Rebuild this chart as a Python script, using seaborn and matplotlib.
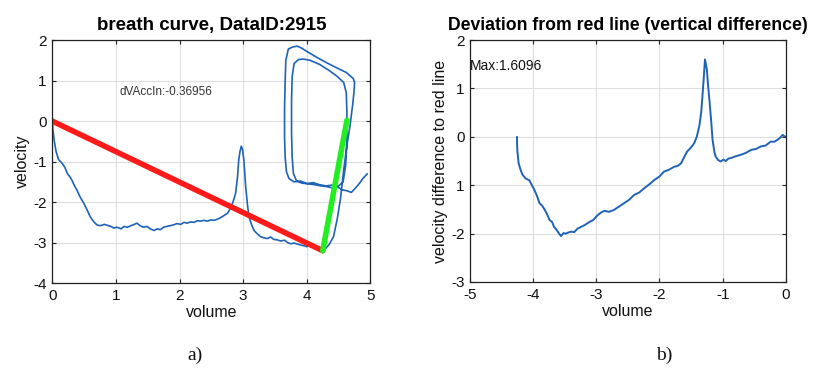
import matplotlib
matplotlib.use("Agg")
import matplotlib.pyplot as plt
import seaborn as sns

# breath curve (left panel): descent then the two loops
descent_vol = [0, 0.01, 0.03, 0.06, 0.1, 0.16, 0.2, 0.24, 0.28, 0.31, 0.35, 0.39, 0.44, 0.5, 0.55, 0.6,
               0.66, 0.71, 0.76, 0.82, 0.86, 0.92, 0.97, 1.02, 1.08, 1.13, 1.18, 1.24, 1.29, 1.33, 1.38,
               1.43, 1.49, 1.54, 1.6, 1.65, 1.7, 1.75, 1.8, 1.86, 1.91, 1.96, 2.02, 2.07, 2.12, 2.17, 2.23,
               2.28, 2.33, 2.38, 2.44, 2.49, 2.54, 2.6, 2.65, 2.7, 2.75, 2.8, 2.84, 2.88, 2.91, 2.93, 2.95,
               2.97, 2.99, 3.01, 3.04, 3.07, 3.09, 3.13, 3.17, 3.22, 3.27, 3.32, 3.38, 3.43, 3.48, 3.53,
               3.59, 3.65, 3.7, 3.75, 3.8, 3.86, 3.91, 3.96, 4.0, 4.06, 4.11, 4.16, 4.21, 4.26, 4.29]
descent_vel = [0.1, -0.2, -0.47, -0.75, -0.95, -1.05, -1.15, -1.3, -1.38, -1.46, -1.6, -1.71, -1.88,
               -2.04, -2.2, -2.37, -2.5, -2.57, -2.58, -2.55, -2.57, -2.6, -2.64, -2.62, -2.66, -2.6,
               -2.62, -2.58, -2.55, -2.52, -2.58, -2.62, -2.6, -2.66, -2.7, -2.66, -2.68, -2.62, -2.6,
               -2.58, -2.56, -2.53, -2.55, -2.5, -2.52, -2.49, -2.5, -2.46, -2.47, -2.45, -2.47, -2.44,
               -2.45, -2.42, -2.38, -2.33, -2.28, -2.16, -2.0, -1.79, -1.4, -0.97, -0.75, -0.62, -0.7,
               -0.95, -1.63, -2.1, -2.35, -2.55, -2.7, -2.78, -2.85, -2.88, -2.9, -2.86, -2.92, -2.93,
               -2.96, -2.94, -3.0, -3.03, -3.01, -3.04, -3.06, -3.08, -3.1, -3.07, -3.1, -3.12, -3.15,
               -3.16, -3.15]
loop_vol = [4.35, 4.42, 4.48, 4.53, 4.58, 4.63, 4.68, 4.72, 4.74, 4.75, 4.73, 4.62, 4.45, 4.3, 4.15,
            4.0, 3.92, 3.85, 3.78, 3.71, 3.67, 3.66, 3.65, 3.65, 3.66, 3.68, 3.72, 3.8, 3.9, 4.0, 4.1,
            4.2, 4.3, 4.4, 4.5, 4.57, 4.61, 4.63, 4.63, 4.62, 4.58, 4.48, 4.35, 4.2, 4.05, 3.95, 3.87,
            3.8, 3.77, 3.76, 3.76, 3.77, 3.79, 3.84, 3.92, 4.02, 4.12, 4.22, 4.32, 4.4, 4.48, 4.56,
            4.63, 4.7, 4.76, 4.82, 4.88, 4.95]
loop_vel = [-3.05, -2.85, -2.4, -1.9, -1.2, -0.6, -0.1, 0.4, 0.7, 0.95, 1.05, 1.2, 1.33, 1.45, 1.58,
            1.72, 1.8, 1.85, 1.83, 1.78, 1.5, 1.0, 0.3, -0.4, -0.9, -1.25, -1.42, -1.5, -1.48, -1.54,
            -1.52, -1.57, -1.6, -1.58, -1.6, -1.5, -1.1, -0.5, 0.2, 0.7, 0.95, 1.1, 1.25, 1.4, 1.5,
            1.53, 1.52, 1.42, 1.1, 0.5, -0.3, -0.9, -1.3, -1.48, -1.53, -1.55, -1.57, -1.6, -1.62,
            -1.65, -1.62, -1.7, -1.72, -1.76, -1.66, -1.55, -1.42, -1.3]

red_vol = [0, 4.25]
red_vel = [0, -3.2]
green_vol = [4.25, 4.63]
green_vel = [-3.2, 0.02]

# deviation from red line (right panel)
dev_vol = [-4.256, -4.255, -4.25, -4.23, -4.2, -4.17, -4.12, -4.06, -4.02, -3.98, -3.94, -3.9, -3.86,
           -3.82, -3.78, -3.74, -3.7, -3.67, -3.63, -3.59, -3.56, -3.52, -3.48, -3.45, -3.4, -3.35,
           -3.3, -3.24, -3.18, -3.11, -3.05, -2.98, -2.92, -2.87, -2.8, -2.72, -2.64, -2.56, -2.48,
           -2.4, -2.32, -2.24, -2.16, -2.08, -2.0, -1.93, -1.85, -1.77, -1.71, -1.66, -1.61, -1.56,
           -1.5, -1.45, -1.41, -1.37, -1.34, -1.32, -1.3, -1.28, -1.265, -1.25, -1.23, -1.21, -1.18,
           -1.16, -1.13, -1.11, -1.07, -1.03, -0.99, -0.95, -0.91, -0.87, -0.79, -0.71, -0.63, -0.55,
           -0.47, -0.4, -0.32, -0.24, -0.18, -0.13, -0.09, -0.05, -0.02, 0.0]
dev_vel = [0.0, -0.15, -0.3, -0.55, -0.68, -0.78, -0.86, -0.9, -1.0, -1.1, -1.22, -1.37, -1.42, -1.5,
           -1.6, -1.72, -1.76, -1.86, -1.92, -2.0, -2.05, -1.99, -2.0, -1.98, -1.96, -1.97, -1.9,
           -1.86, -1.82, -1.76, -1.72, -1.62, -1.56, -1.53, -1.55, -1.51, -1.44, -1.37, -1.3, -1.2,
           -1.15, -1.06, -0.98, -0.89, -0.82, -0.72, -0.68, -0.62, -0.6, -0.55, -0.42, -0.3, -0.22,
           -0.13, 0.0, 0.22, 0.5, 0.84, 1.2, 1.6, 1.5, 1.39, 1.05, 0.77, 0.3, -0.06, -0.32, -0.41,
           -0.48, -0.51, -0.47, -0.5, -0.45, -0.44, -0.4, -0.37, -0.33, -0.27, -0.25, -0.2, -0.18,
           -0.1, -0.1, -0.06, -0.02, 0.04, 0.01, 0.0]

left_yticks = [2, 1, 0, -1, -2, -3, -4]
right_yticks = [2, 1, 0, -1, -2, -3]
right_ylabels = ["2", "1", "0", "1", "-2", "-3"]

sns.set_theme(style="whitegrid")
plt.rcParams['font.family'] = ['Liberation Sans', 'DejaVu Sans']
plt.rcParams['axes.unicode_minus'] = False
plt.rcParams['text.color'] = '#111111'
plt.rcParams['axes.labelcolor'] = '#111111'
plt.rcParams['xtick.color'] = '#111111'
plt.rcParams['ytick.color'] = '#111111'
blue = '#1f63b8'

fig = plt.figure(figsize=(8.16, 3.78), dpi=100)
ax1 = fig.add_axes([0.064, 0.251, 0.390, 0.643])
ax2 = fig.add_axes([0.576, 0.254, 0.387, 0.640])

# left
sns.lineplot(x=descent_vol + loop_vol, y=descent_vel + loop_vel, sort=False, estimator=None,
             color=blue, linewidth=1.2, ax=ax1)
sns.lineplot(x=red_vol, y=red_vel, color='#ff1a1a', linewidth=4, ax=ax1)
sns.lineplot(x=green_vol, y=green_vel, color='#22ee22', linewidth=4, ax=ax1)
ax1.set_xlim(0, 5)
ax1.set_ylim(-4, 2)
ax1.set_yticks(left_yticks)
ax1.set_xticks([0, 1, 2, 3, 4, 5])
ax1.text(1.05, 0.72, "dVAccIn:-0.36956", fontsize=8.5, color='#333333', va='center')
ax1.set_title("breath curve, DataID:2915", fontsize=13.5, fontweight='bold', pad=7, color='black')
ax1.set_xlabel("volume", fontsize=11.5, labelpad=2)
ax1.set_ylabel("velocity", fontsize=11.5, labelpad=2)

# right
sns.lineplot(x=dev_vol, y=dev_vel, sort=False, estimator=None, color=blue, linewidth=1.4, ax=ax2)
ax2.set_xlim(-5, 0)
ax2.set_ylim(-3, 2)
ax2.set_yticks(right_yticks)
ax2.set_yticklabels(right_ylabels)
ax2.set_xticks([-5, -4, -3, -2, -1, 0])
ax2.text(-5.0, 1.46, "Max:1.6096", fontsize=10, color='#111111', va='center')
ax2.set_title("Deviation from red line (vertical difference)", fontsize=12.7, fontweight='bold',
              pad=7, color='black')
ax2.set_xlabel("volume", fontsize=11.5, labelpad=2)
ax2.set_ylabel("velocity difference to red line", fontsize=11.5, labelpad=2)

for ax in (ax1, ax2):
    ax.set_facecolor('white')
    ax.grid(True, color='#dedede', linewidth=0.8)
    for s in ax.spines.values():
        s.set_color('#222222')
        s.set_linewidth(0.9)
    ax.tick_params(direction='in', length=3, width=0.8, color='#222222',
                   labelsize=11, pad=4, top=True, right=True, bottom=True, left=True)

fig.text(0.239, 0.06, "a)", fontsize=14, family=['Liberation Serif', 'DejaVu Serif'], ha='center', va='center')
fig.text(0.814, 0.06, "b)", fontsize=14, family=['Liberation Serif', 'DejaVu Serif'], ha='center', va='center')

fig.savefig("out.png", dpi=100, facecolor='white')
